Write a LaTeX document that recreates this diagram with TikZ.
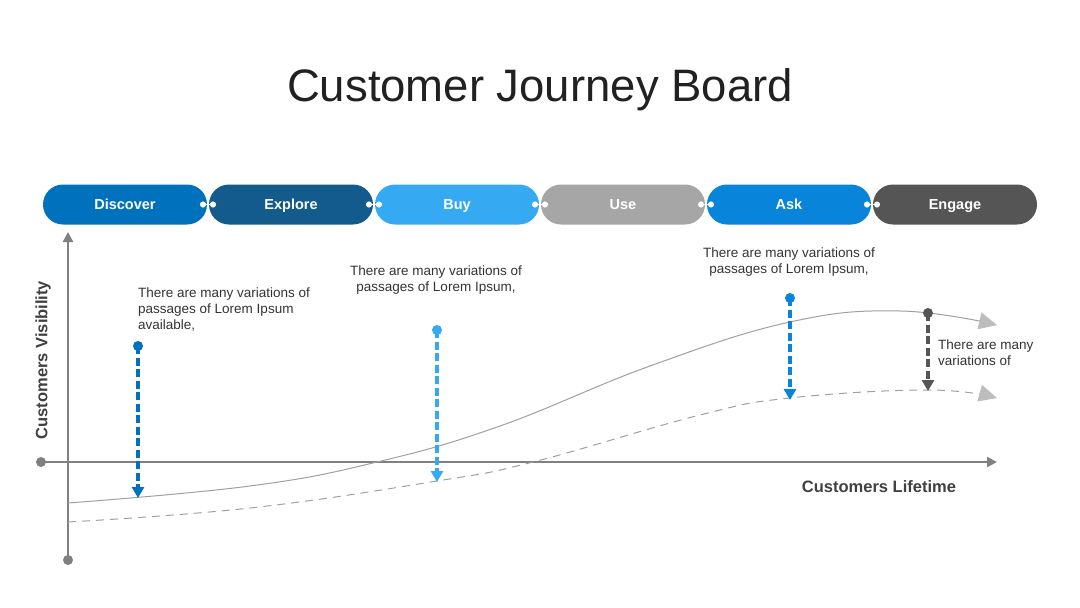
\documentclass[tikz,border=0pt]{standalone}
\usepackage{fontspec}
\setmainfont{Liberation Sans}
\usetikzlibrary{arrows.meta, positioning}
\definecolor{cDis}{HTML}{0071BC}
\definecolor{cExp}{HTML}{125B8C}
\definecolor{cBuy}{HTML}{35AAF2}
\definecolor{cUse}{HTML}{A6A6A6}
\definecolor{cAsk}{HTML}{0884DA}
\definecolor{cEng}{HTML}{555555}
\definecolor{axisgray}{HTML}{808080}
\definecolor{curvegray}{HTML}{A0A0A0}
\definecolor{tipgray}{HTML}{BDBDBD}
\definecolor{txtgray}{HTML}{333333}

\begin{document}
\begin{tikzpicture}[x=1pt, y=-1pt, node distance=2pt]
  \tikzset{
    pill/.style={rectangle, rounded corners=20pt, fill=#1,
                 minimum width=164pt, minimum height=40pt,
                 text height=10.5pt, text depth=0.5pt,
                 inner sep=0pt, outer sep=0pt, text=white,
                 font=\fontsize{14.5}{16}\selectfont\bfseries},
    joint/.style={white, line width=1.6pt, shorten <=-7pt, shorten >=-7pt,
                  {Circle[length=6pt]}-{Circle[length=6pt]}},
    axis/.style={draw=axisgray, line width=2.4pt,
                 -{Triangle[length=10pt, width=10pt]}},
    pin/.style={circle, fill=#1, inner sep=0pt, minimum size=10pt},
    drop/.style={draw=#1, line width=3.4pt, dash pattern=on 8pt off 3.5pt,
                 -{Triangle[length=11pt, width=12pt]}},
    note/.style={inner sep=0pt, text=txtgray,
                 font=\fontsize{13.5}{16}\selectfont},
    curve/.style={draw=curvegray, line width=1pt,
                  -{Triangle[length=18pt, width=17pt, color=tipgray]}}
  }
  \useasboundingbox (0,0) rectangle (1080,608);

  % title
  \node[text=black!87, font=\fontsize{45.5}{50}\selectfont] (title) at (540,90)
    {Customer Journey Board};

  % stages
  \node[pill=cDis] (dis) at (125,204.5) {Discover};
  \node[pill=cExp, right=of dis] (exp) {Explore};
  \node[pill=cBuy, right=of exp] (buy) {Buy};
  \node[pill=cUse, right=of buy] (use) {Use};
  \node[pill=cAsk, right=of use] (ask) {Ask};
  \node[pill=cEng, right=of ask] (eng) {Engage};
  \foreach \a/\b in {dis/exp,exp/buy,buy/use,use/ask,ask/eng}
    \draw[joint] (\a.east) -- (\b.west);

  % axes
  \node[pin=axisgray] (yo) at (68,560) {};
  \node[pin=axisgray] (xo) at (41,462) {};
  \coordinate (ytop) at (68,232);
  \coordinate (xend) at (997,462);
  \draw[axis] (yo.center) -- (ytop);
  \draw[axis] (xo.center) -- (xend);
  \node[rotate=90, text=black!75, font=\fontsize{16.5}{18}\selectfont\bfseries]
    (ylab) at (43,360) {Customers Visibility};
  \node[text=black!75, font=\fontsize{16.5}{18}\selectfont\bfseries]
    (xlab) at (879,487) {Customers Lifetime};

  % curves
  \draw[curve] plot[smooth, tension=0.7] coordinates {(68,503) (250,486)
    (377,462) (500,426) (650,366) (790,322) (900,311) (997,325)};
  \draw[curve, dash pattern=on 8pt off 6pt] plot[smooth, tension=0.7]
    coordinates {(68,522) (250,508) (437,481) (533,462) (700,415)
    (790,398) (928,390) (997,398)};

  % drops
  \node[pin=cDis] (p1) at (138,346) {};
  \node[pin=cBuy] (p2) at (437,330) {};
  \node[pin=cAsk] (p3) at (790,298) {};
  \node[pin=cEng] (p4) at (928,313) {};
  \coordinate (e1) at (138,498);
  \coordinate (e2) at (437,482);
  \coordinate (e3) at (790,400);
  \coordinate (e4) at (928,391);
  \draw[drop=cDis] (p1.center) -- (e1);
  \draw[drop=cBuy] (p2.center) -- (e2);
  \draw[drop=cAsk] (p3.center) -- (e3);
  \draw[drop=cEng] (p4.center) -- (e4);

  % notes
  \node[note, align=left, anchor=north west] (n1) at (138,288)
    {There are many variations of\\passages of Lorem Ipsum\\available,};
  \node[note, align=center, anchor=north] (n2) at (436,266)
    {There are many variations of\\passages of Lorem Ipsum,};
  \node[note, align=center, anchor=north] (n3) at (789,248)
    {There are many variations of\\passages of Lorem Ipsum,};
  \node[note, align=left, anchor=north west] (n4) at (938,340)
    {There are many\\variations of};
\end{tikzpicture}
\end{document}
